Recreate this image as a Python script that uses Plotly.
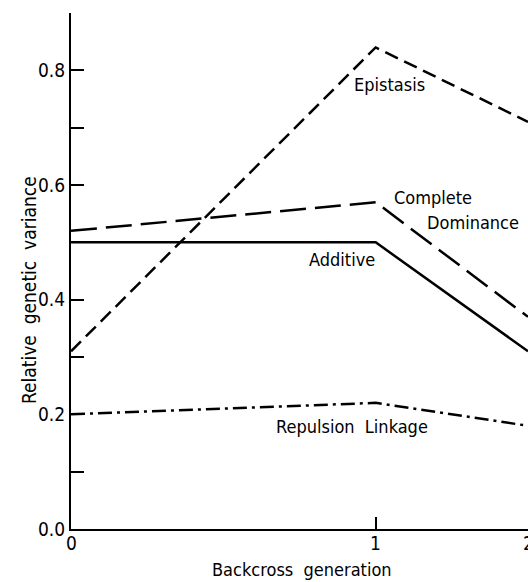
import plotly.graph_objects as go

# Data
generation_labels = ["0", "1", "2"]
generation_axis_pos = [0, 1, 1.5]   # spacing of generations on the original axis

epistasis = [0.31, 0.84, 0.71]
complete_dominance = [0.52, 0.57, 0.37]
additive = [0.50, 0.50, 0.31]
repulsion_linkage = [0.20, 0.22, 0.18]

y_tickvals = [0.0, 0.1, 0.2, 0.3, 0.4, 0.5, 0.6, 0.7, 0.8, 0.9]
y_ticktext = ["0.0", "", "0.2", "", "0.4", "", "0.6", "", "0.8", ""]

FONT = "DejaVu Sans Condensed, Liberation Sans Narrow, Arial Narrow, sans-serif"

fig = go.Figure()
line_w = 2.5
fig.add_trace(go.Scatter(x=generation_axis_pos, y=epistasis, mode="lines",
                         line=dict(color="black", width=line_w, dash="14px,7px")))
fig.add_trace(go.Scatter(x=generation_axis_pos, y=complete_dominance, mode="lines",
                         line=dict(color="black", width=line_w, dash="26px,9px")))
fig.add_trace(go.Scatter(x=generation_axis_pos, y=additive, mode="lines",
                         line=dict(color="black", width=line_w)))
fig.add_trace(go.Scatter(x=generation_axis_pos, y=repulsion_linkage, mode="lines",
                         line=dict(color="black", width=line_w, dash="14px,5px,3px,5px")))

labels = [
    ("Epistasis", 1.047, 0.775),
    ("Complete", 1.188, 0.578),
    ("Dominance", 1.319, 0.534),
    ("Additive", 0.889, 0.470),
    ("Repulsion  Linkage", 0.922, 0.178),
]
for txt, x, y in labels:
    fig.add_annotation(x=x, y=y, xref="x", yref="y", text=txt, showarrow=False,
                       font=dict(family=FONT, size=18, color="black"),
                       xanchor="center", yanchor="middle")

# x tick labels as text under the axis (last one sits on the page edge, as in the original)
for lab, pos in zip(generation_labels, generation_axis_pos):
    fig.add_annotation(x=pos, y=0, xref="x", yref="paper", text=lab, showarrow=False,
                       font=dict(family=FONT, size=19, color="black"),
                       xanchor="center", yanchor="top", yshift=-1)

fig.add_annotation(x=-0.092, y=0.463, xref="paper", yref="paper",
                   text="Relative  genetic  variance", textangle=-90, showarrow=False,
                   font=dict(family=FONT, size=19, color="black"),
                   xanchor="center", yanchor="middle")
fig.add_annotation(x=0.5055, y=-0.078, xref="paper", yref="paper",
                   text="Backcross  generation", showarrow=False,
                   font=dict(family=FONT, size=18, color="black"),
                   xanchor="center", yanchor="middle")

fig.update_layout(
    width=528, height=582,
    margin=dict(l=71, r=0, t=13, b=53),
    template="none",
    plot_bgcolor="white", paper_bgcolor="white",
    showlegend=False,
    font=dict(family=FONT, size=18, color="black"),
    xaxis=dict(range=[0, 1.5], tickvals=generation_axis_pos, showticklabels=False,
               showgrid=False, zeroline=False, showline=True, linecolor="black", linewidth=2,
               ticks="inside", ticklen=12, tickwidth=2, tickcolor="black",
               automargin=False, fixedrange=True),
    yaxis=dict(range=[0, 0.9], tickvals=y_tickvals, ticktext=y_ticktext,
               tickfont=dict(size=19),
               showgrid=False, zeroline=False, showline=True, linecolor="black", linewidth=2,
               ticks="inside", ticklen=13, tickwidth=2, tickcolor="black",
               automargin=False, fixedrange=True),
)

fig.write_html("out.html")
